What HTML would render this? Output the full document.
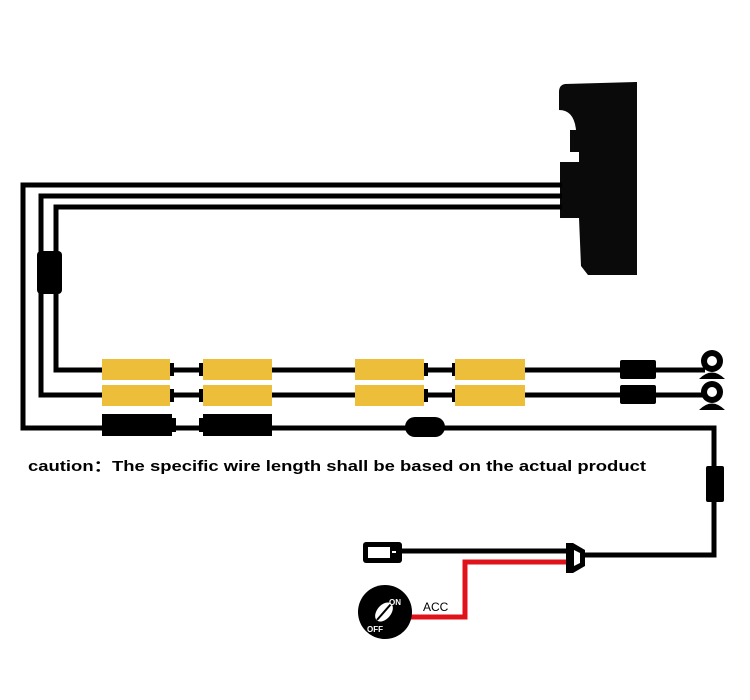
<!DOCTYPE html>
<html><head><style>body{margin:0;background:#fff}</style></head><body>
<svg width="750" height="700" viewBox="0 0 750 700" xmlns="http://www.w3.org/2000/svg" style="display:block">
<rect width="750" height="700" fill="#fff"/>
<!-- monitor -->
<path d="M565,84 L637,82 L637,275 L588,275 L581,266 L579,218 L560,218 L560,162 L579,162 L579,152 L570,152 L570,130 L576,130 Q574,110 559,110 L559,92 Q559,85 565,84 Z" fill="#0a0a0a"/>
<g stroke="#000" stroke-width="5" fill="none">
<polyline points="562,185 23,185 23,428 714,428 714,555 585,555"/>
<polyline points="562,196 41,196 41,395 620,395"/>
<polyline points="562,207 56,207 56,370 620,370"/>
<line x1="655" y1="370" x2="705" y2="370"/>
<line x1="655" y1="395" x2="705" y2="395"/>
<line x1="400" y1="551" x2="566" y2="551"/>
</g>
<polyline points="566,562 465,562 465,617 410,617" stroke="#e0131a" stroke-width="5" fill="none"/>
<rect x="37" y="251" width="25" height="43" rx="4" fill="#000"/>
<g fill="#edbe3a">
<rect x="102" y="359" width="68" height="21"/><rect x="102" y="385" width="68" height="21"/>
<rect x="203" y="359" width="69" height="21"/><rect x="203" y="385" width="69" height="21"/>
<rect x="355" y="359" width="69" height="21"/><rect x="355" y="385" width="69" height="21"/>
<rect x="455" y="359" width="70" height="21"/><rect x="455" y="385" width="70" height="21"/>
</g>
<g fill="#000">
<rect x="102" y="414" width="70" height="22"/><rect x="172" y="418" width="4" height="14"/>
<rect x="203" y="414" width="69" height="22"/><rect x="199" y="418" width="4" height="14"/>
<rect x="170" y="363" width="4" height="13"/><rect x="170" y="389" width="4" height="13"/>
<rect x="199" y="363" width="4" height="13"/><rect x="199" y="389" width="4" height="13"/>
<rect x="424" y="363" width="4" height="13"/><rect x="424" y="389" width="4" height="13"/>
<rect x="452" y="363" width="3" height="13"/><rect x="452" y="389" width="3" height="13"/>
<rect x="405" y="417" width="40" height="20" rx="10"/>
<rect x="620" y="360" width="36" height="19" rx="2"/>
<rect x="620" y="385" width="36" height="19" rx="2"/>
<rect x="706" y="466" width="18" height="36" rx="2"/>
<path d="M566,543 L573,543 L585,550 L585,566 L573,573 L566,573 Z"/>
<rect x="363" y="542" width="39" height="21" rx="3"/>
<circle cx="385" cy="612" r="27"/>
<circle cx="712" cy="361" r="11"/><path d="M699,379 Q712,366 725,379 Z"/>
<circle cx="712" cy="392" r="11"/><path d="M699,410 Q712,397 725,410 Z"/>
</g>
<g fill="#fff">
<rect x="368" y="547" width="22" height="11"/><rect x="392" y="551" width="4" height="2"/>
<circle cx="712" cy="361" r="5"/><circle cx="712" cy="392" r="5"/>
<path d="M574,550 L580,553 L580,563 L574,566 Z"/>
<ellipse cx="384" cy="612" rx="7" ry="11" transform="rotate(40 384 612)"/>
</g>
<line x1="377" y1="620" x2="391" y2="604" stroke="#000" stroke-width="2"/>
<text x="389" y="605" font-family="Liberation Sans, sans-serif" font-size="8" font-weight="bold" fill="#fff">ON</text>
<text x="367" y="632" font-family="Liberation Sans, sans-serif" font-size="8" font-weight="bold" fill="#fff">OFF</text>
<text x="423" y="611" font-family="Liberation Sans, sans-serif" font-size="12" fill="#000">ACC</text>
<text x="28" y="471" font-family="Liberation Sans, sans-serif" font-size="15" font-weight="bold" fill="#000" textLength="618" lengthAdjust="spacingAndGlyphs">caution：The specific wire length shall be based on the actual product</text>
</svg>
</body></html>
